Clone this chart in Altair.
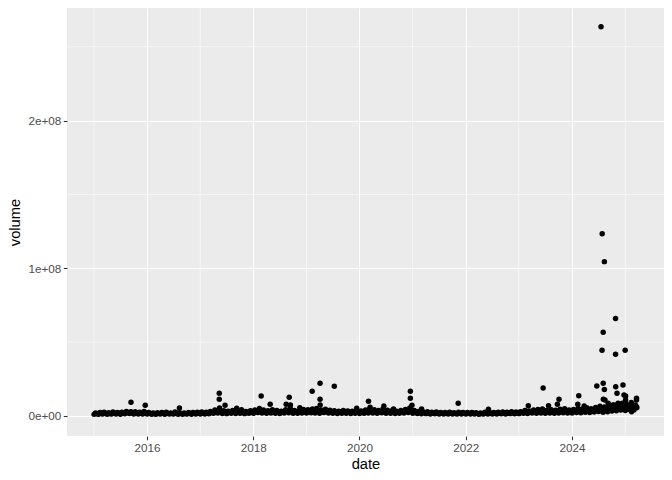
import altair as alt
import pandas as pd

# ---- baseline daily-volume band, readings per month (millions), Jan 2015 .. Mar 2025
base_lo = [
    1.1, 1.2, 1.3, 1.2, 1.4, 1.3, 1.2, 1.5, 1.7, 1.4, 1.3, 1.4,   # 2015
    1.3, 1.2, 1.1, 1.3, 1.2, 1.4, 1.3, 1.2, 1.1, 1.3, 1.2, 1.4,   # 2016
    1.4, 1.3, 1.5, 1.8, 2.0, 1.7, 1.6, 1.8, 1.7, 1.9, 1.6, 1.8,   # 2017
    1.9, 2.3, 2.0, 1.8, 2.1, 1.9, 1.7, 2.0, 2.2, 1.9, 1.8, 2.1,   # 2018
    2.0, 2.2, 2.1, 1.9, 2.3, 2.0, 1.8, 1.7, 1.9, 1.8, 1.7, 1.8,   # 2019
    1.7, 1.9, 2.1, 2.0, 1.8, 2.2, 1.9, 1.8, 1.7, 1.8, 2.1, 2.3,   # 2020
    1.9, 1.7, 1.5, 1.6, 1.4, 1.5, 1.4, 1.3, 1.4, 1.3, 1.4, 1.3,   # 2021
    1.3, 1.4, 1.3, 1.2, 1.3, 1.4, 1.3, 1.4, 1.5, 1.4, 1.6, 1.5,   # 2022
    1.6, 1.8, 1.7, 2.0, 1.9, 2.1, 1.8, 2.0, 1.9, 2.1, 2.2, 2.0,   # 2023
    2.1, 2.3, 2.2, 2.5, 2.4, 2.7, 3.1, 2.5, 2.9, 3.3, 3.5, 4.0,   # 2024
    3.7, 4.3, 4.0,                                                # 2025
]
base_mid = [
    1.5, 1.7, 1.9, 1.6, 2.0, 1.8, 1.9, 2.3, 2.1, 2.0, 1.8, 2.2,
    1.8, 1.6, 1.7, 1.8, 1.9, 1.6, 2.0, 1.7, 1.6, 1.8, 1.9, 2.0,
    2.0, 1.9, 2.3, 2.9, 3.3, 2.7, 2.5, 2.8, 2.6, 3.1, 2.4, 2.7,
    2.9, 3.6, 3.0, 2.7, 3.2, 2.8, 2.5, 3.1, 3.7, 2.9, 2.6, 3.2,
    3.1, 3.5, 3.6, 3.0, 3.4, 2.9, 2.7, 2.5, 2.8, 2.6, 2.5, 2.7,
    2.6, 3.0, 3.5, 3.1, 2.8, 3.6, 2.9, 2.7, 2.5, 2.9, 3.2, 3.8,
    2.9, 2.4, 2.2, 2.1, 1.9, 2.1, 1.9, 1.8, 1.9, 1.7, 2.0, 1.8,
    1.8, 1.9, 1.7, 1.6, 1.9, 1.8, 1.8, 2.0, 2.1, 1.9, 2.2, 2.1,
    2.3, 2.8, 2.6, 3.0, 3.1, 3.4, 2.8, 3.1, 2.9, 3.3, 3.5, 3.1,
    3.2, 3.7, 3.4, 4.0, 3.6, 4.2, 4.8, 4.2, 4.8, 5.4, 5.7, 6.2,
    5.7, 6.6, 5.6,
]
base_hi = [
    2.1, 2.3, 2.5, 2.2, 2.7, 2.4, 2.6, 3.1, 2.9, 2.8, 2.5, 3.0,
    2.4, 2.1, 2.2, 2.3, 2.5, 2.0, 2.7, 2.2, 2.1, 2.3, 2.4, 2.6,
    2.7, 2.5, 3.1, 4.0, 4.6, 3.6, 3.3, 3.8, 3.4, 4.3, 3.1, 3.5,
    4.0, 5.0, 4.1, 3.5, 4.3, 3.7, 3.3, 4.2, 5.2, 3.8, 3.4, 4.4,
    4.3, 4.8, 5.1, 4.1, 4.5, 3.9, 3.6, 3.3, 3.7, 3.4, 3.2, 3.5,
    3.4, 4.1, 4.8, 4.3, 3.7, 5.0, 3.9, 3.6, 3.3, 3.8, 4.4, 5.4,
    3.8, 3.1, 2.9, 2.8, 2.5, 2.7, 2.4, 2.3, 2.5, 2.2, 2.6, 2.3,
    2.3, 2.4, 2.2, 2.1, 2.5, 2.3, 2.4, 2.6, 2.7, 2.5, 2.9, 2.7,
    2.9, 3.8, 3.4, 4.0, 4.4, 4.7, 3.7, 4.3, 3.9, 4.6, 4.9, 4.1,
    4.4, 5.1, 4.7, 5.6, 4.9, 5.8, 6.6, 6.1, 6.8, 7.6, 8.0, 8.6,
    7.8, 9.1, 7.4,
]

# ---- individual high-volume days (millions)
spike_dates = [
    "2015-09-13", "2015-12-20", "2016-08-11", "2017-05-12", "2017-05-12", "2017-05-14",
    "2017-06-21", "2017-09-09", "2018-02-24", "2018-04-27", "2018-09-05", "2018-08-15",
    "2018-09-13", "2018-11-17", "2019-02-10", "2019-04-05", "2019-04-05", "2019-04-06",
    "2019-07-12", "2019-12-13", "2020-03-03", "2020-03-14", "2020-06-17", "2020-08-22",
    "2020-12-16", "2020-12-16", "2020-12-27", "2021-03-03", "2021-11-10", "2022-06-06",
    "2023-03-07", "2023-06-17", "2023-07-24", "2023-09-23", "2023-10-04", "2024-02-10",
    "2024-02-17", "2024-03-25", "2024-06-20", "2024-07-19", "2024-07-26", "2024-07-27",
    "2024-08-03", "2024-08-03", "2024-08-04", "2024-08-11", "2024-08-11", "2024-08-15",
    "2024-09-06", "2024-09-20", "2024-10-27", "2024-10-27", "2024-10-28", "2024-11-06",
    "2024-11-13", "2024-12-17", "2024-12-24", "2025-01-01", "2025-01-04", "2025-01-04",
    "2025-01-23", "2025-02-14", "2025-03-20", "2025-03-20", "2025-03-20",
]
spike_vals = [
    9.3, 7.2, 5.4, 15.4, 11.3, 5.4,
    7.2, 5.2, 13.5, 7.9, 12.7, 7.9,
    7.4, 5.6, 16.7, 22.1, 11.3, 7.4,
    20.1, 5.2, 10.0, 5.9, 6.8, 4.7,
    16.7, 12.0, 7.2, 4.7, 8.6, 4.5,
    7.0, 19.0, 7.0, 7.9, 11.3, 7.9,
    13.7, 6.8, 20.3, 263.5, 44.5, 123.4,
    22.1, 56.7, 11.3, 104.5, 18.0, 10.8,
    8.6, 4.0, 66.0, 41.8, 19.8, 15.4,
    8.6, 21.0, 14.2, 44.5, 13.5, 10.8,
    6.3, 2.9, 12.0, 10.8, 6.3,
]

# ---- gridline positions (axis breaks)
major_years = [2016, 2018, 2020, 2022, 2024]
minor_years = [2015, 2017, 2019, 2021, 2023, 2025]
major_vol = [0, 1e8, 2e8]
minor_vol = [0.5e8, 1.5e8, 2.5e8]

# ---- build table
months = pd.date_range("2015-01-01", periods=len(base_lo), freq="MS")
rows = []
for m, lo, mid, hi in zip(months, base_lo, base_mid, base_hi):
    rows.append({"date": m + pd.Timedelta(days=1), "volume": lo * 1e6})
    rows.append({"date": m + pd.Timedelta(days=11), "volume": hi * 1e6})
    rows.append({"date": m + pd.Timedelta(days=21), "volume": mid * 1e6})
for d, v in zip(spike_dates, spike_vals):
    rows.append({"date": pd.Timestamp(d), "volume": v * 1e6})
df = pd.DataFrame(rows)
df["date"] = df["date"].dt.strftime("%Y-%m-%d")

xscale = alt.Scale(domain=[alt.DateTime(year=2014, month=6, date=30),
                           alt.DateTime(year=2025, month=9, date=25)], nice=False)
yscale = alt.Scale(domain=[-1.354e7, 2.762e8], nice=False, zero=False)

xaxis = alt.Axis(values=[alt.DateTime(year=y, month=1, date=1) for y in major_years],
                 format="%Y", title="date", labelAngle=0, titlePadding=3)
label_expr = ("datum.value == 0 ? '0e+00' : datum.value == 100000000 ? '1e+08' : "
              "datum.value == 200000000 ? '2e+08' : ''")
yaxis = alt.Axis(values=major_vol, labelExpr=label_expr, title="volume", titlePadding=5)

minor_x = pd.DataFrame({"date": [f"{y}-01-01" for y in minor_years]})
minor_y = pd.DataFrame({"volume": minor_vol})

vgrid = alt.Chart(minor_x).mark_rule(color="white", strokeWidth=0.55).encode(
    x=alt.X("date:T", scale=xscale, axis=xaxis)
)
hgrid = alt.Chart(minor_y).mark_rule(color="white", strokeWidth=0.55).encode(
    y=alt.Y("volume:Q", scale=yscale, axis=yaxis)
)
points = alt.Chart(df).mark_circle(size=30, color="black", opacity=1).encode(
    x=alt.X("date:T", scale=xscale, axis=xaxis),
    y=alt.Y("volume:Q", scale=yscale, axis=yaxis),
)

chart = alt.layer(vgrid, hgrid, points).properties(
    width=597, height=428,
    autosize=alt.AutoSizeParams(type="none"),
    padding={"left": 59, "top": 0, "right": 0, "bottom": 36},
    background="white",
).configure_view(
    fill="#EBEBEB", strokeWidth=0
).configure_axis(
    domain=False, grid=True, gridColor="white", gridWidth=1.07,
    tickColor="#333333", tickSize=3.7, tickWidth=1.07,
    labelColor="#4D4D4D", labelFontSize=11.7, labelFont="Liberation Sans", labelPadding=2.5,
    titleFontSize=14.7, titleFont="Liberation Sans", titleColor="black", titleFontWeight="normal",
)

chart.save("out.html", embed_options={"renderer": "svg", "actions": False})
